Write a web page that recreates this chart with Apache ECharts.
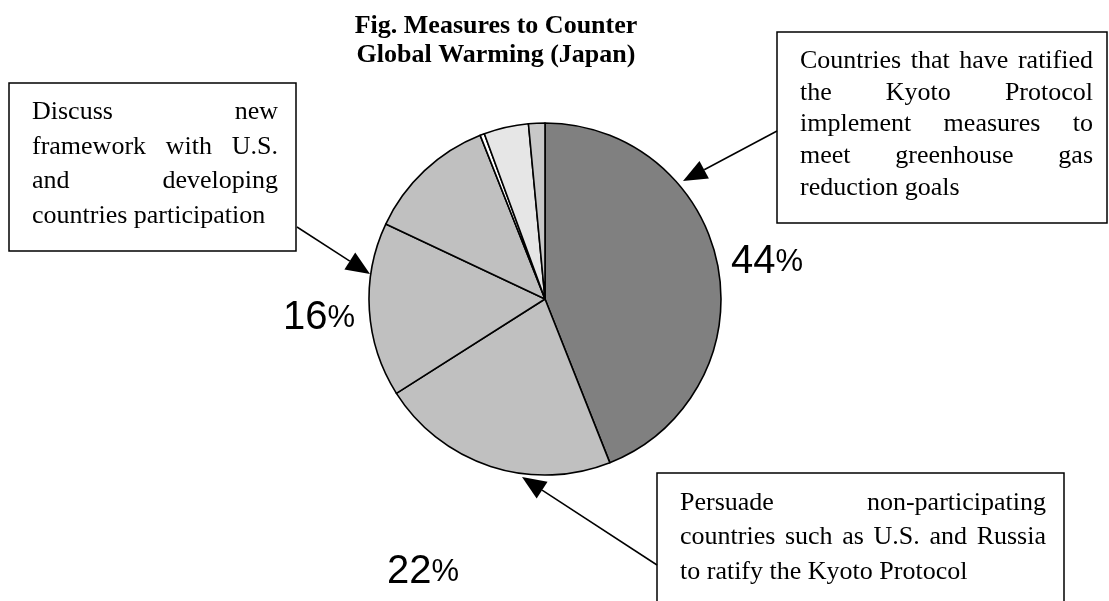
<!DOCTYPE html>
<html>
<head>
<meta charset="utf-8">
<script src="https://cdn.jsdelivr.net/npm/echarts@6/dist/echarts.min.js"></script>
<style>
  html, body { margin: 0; padding: 0; background: #fff; }
  #chart { width: 1109px; height: 601px; }
</style>
</head>
<body>
<div id="chart"></div>
<script>
// Share of measures, clockwise from 12 o'clock
const categories = ['Ratified countries implement measures', 'Persuade non-participating countries',
  'Discuss new framework', 'Other', 'Other (a)', 'Other (b)', 'Other (c)'];
const shares = [44, 22, 16, 12, 0.4, 4.1, 1.5];
const sliceColors = ['#808080', '#c0c0c0', '#c0c0c0', '#c0c0c0', '#ffffff', '#e6e6e6', '#c8c8c8'];
const labelled = [true, true, true, false, false, false, false];

const titleText = 'Fig. Measures to Counter\nGlobal Warming (Japan)';

// Callout texts, one entry per printed line
const noteRatified = ['Countries that have ratified', 'the Kyoto Protocol', 'implement measures to',
  'meet greenhouse gas', 'reduction goals'];
const noteFramework = ['Discuss new', 'framework with U.S.', 'and developing', 'countries participation'];
const notePersuade = ['Persuade non-participating', 'countries such as U.S. and Russia', 'to ratify the Kyoto Protocol'];

const SERIF = '"Liberation Serif", "Times New Roman", serif';
const NOTE_SIZE = 26;
const measureCtx = document.createElement('canvas').getContext('2d');
function textWidth(t) {
  measureCtx.font = NOTE_SIZE + 'px ' + SERIF;
  return measureCtx.measureText(t).width;
}

// Justified paragraph: every line but the last is spread to the full width
function paragraph(lines, left, right, y0, step) {
  const out = [];
  lines.forEach(function (line, i) {
    const y = y0 + i * step;
    const words = line.split(' ');
    const last = i === lines.length - 1;
    if (last || words.length < 2) {
      out.push(textEl(line, left, y));
      return;
    }
    const widths = words.map(textWidth);
    const total = widths.reduce(function (a, b) { return a + b; }, 0);
    const gap = (right - left - total) / (words.length - 1);
    let x = left;
    words.forEach(function (w, k) {
      out.push(textEl(w, x, y));
      x += widths[k] + gap;
    });
  });
  return out;
}
function textEl(t, x, y) {
  return {
    type: 'text', x: x, y: y, silent: true,
    style: { text: t, fontFamily: SERIF, fontSize: NOTE_SIZE, fill: '#000',
      align: 'left', verticalAlign: 'middle' }
  };
}
function box(x1, y1, x2, y2) {
  return {
    type: 'rect', silent: true,
    shape: { x: x1, y: y1, width: x2 - x1, height: y2 - y1 },
    style: { fill: '#fff', stroke: '#000', lineWidth: 1.5 }
  };
}
function arrow(x1, y1, x2, y2) {
  const a = Math.atan2(y2 - y1, x2 - x1);
  const L = 24, W = 10;
  const bx = x2 - L * Math.cos(a), by = y2 - L * Math.sin(a);
  const nx = -Math.sin(a), ny = Math.cos(a);
  return [
    { type: 'line', silent: true, shape: { x1: x1, y1: y1, x2: bx, y2: by },
      style: { stroke: '#000', lineWidth: 1.5 } },
    { type: 'polygon', silent: true,
      shape: { points: [[x2, y2], [bx + W * nx, by + W * ny], [bx - W * nx, by - W * ny]] },
      style: { fill: '#000' } }
  ];
}

// Where the percentage labels sit around the pie
const labelSpots = {
  0: { x: 731, y: 262, align: 'left' },
  1: { x: 423, y: 572, align: 'center' },
  2: { x: 355, y: 318, align: 'right' }
};

const graphics = [].concat(
  [box(777, 32, 1107, 223)],
  paragraph(noteRatified, 800, 1093, 61, 31.8),
  [box(9, 83, 296, 251)],
  paragraph(noteFramework, 32, 278, 112, 34.7),
  [box(657, 473, 1064, 640)],
  paragraph(notePersuade, 680, 1046, 503, 34.5),
  arrow(777, 131, 683, 181),
  arrow(297, 227, 370, 274),
  arrow(657, 565, 522, 477)
);

const chart = echarts.init(document.getElementById('chart'), null, { renderer: 'canvas' });
chart.setOption({
  backgroundColor: '#fff',
  animation: false,
  title: {
    text: titleText,
    left: 491, top: 7, textAlign: 'center',
    textStyle: { fontFamily: SERIF, fontWeight: 'bold', fontSize: 26, lineHeight: 29, color: '#000' }
  },
  series: [{
    type: 'pie',
    center: [545, 299],
    radius: 176,
    startAngle: 90,
    clockwise: true,
    avoidLabelOverlap: false,
    silent: true,
    itemStyle: { borderColor: '#000', borderWidth: 1.6 },
    label: {
      show: true,
      position: 'outside',
      formatter: function (p) { return '{n|' + p.value + '}{p|%}'; },
      rich: {
        n: { fontFamily: '"Liberation Sans", Arial, sans-serif', fontSize: 40, color: '#000' },
        p: { fontFamily: '"Liberation Sans", Arial, sans-serif', fontSize: 31, color: '#000' }
      }
    },
    labelLine: { show: false },
    labelLayout: function (p) {
      const s = labelSpots[p.dataIndex];
      return s ? { x: s.x, y: s.y, align: s.align, verticalAlign: 'middle' } : {};
    },
    data: shares.map(function (v, i) {
      return {
        name: categories[i], value: v,
        itemStyle: { color: sliceColors[i] },
        label: { show: labelled[i] }
      };
    })
  }],
  graphic: graphics
});
</script>
</body>
</html>
